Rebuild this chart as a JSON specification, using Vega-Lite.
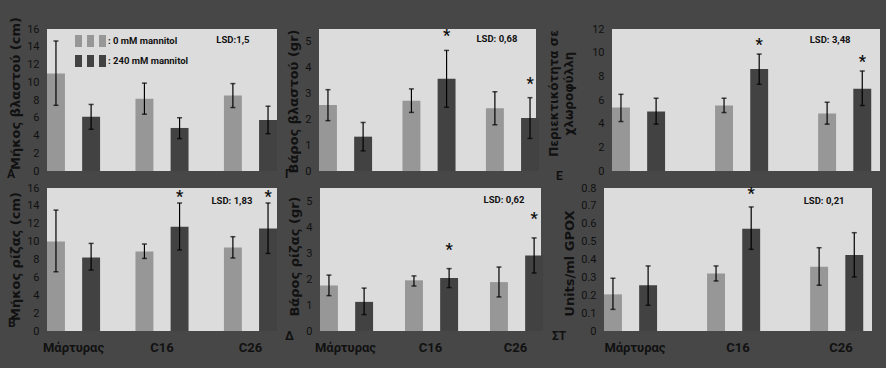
{
  "$schema": "https://vega.github.io/schema/vega-lite/v6.json",
  "background": "#474747",
  "padding": {"left": 7, "top": 16, "right": 18, "bottom": 22},
  "config": {
    "view": {"fill": "#dcdcdc", "stroke": null},
    "axis": {"labelOverlap": false},
    "axisY": {"ticks": false, "domain": false, "grid": false, "tickCount": 30, "format": "~g", "labelOverlap": false, "labelFlush": false, "labelFont": "Roboto", "labelFontSize": 11, "labelColor": "#111111", "labelPadding": 8, "titleFont": "DejaVu Sans", "titleFontSize": 13, "titleFontWeight": "bold", "titleColor": "#111111", "titlePadding": 4, "titleLineHeight": 15},
    "axisX": {"ticks": false, "domain": false, "grid": false, "labelFont": "Roboto", "labelFontSize": 13, "labelFontWeight": "bold", "labelColor": "#111111", "labelPadding": 10, "labelAngle": 0},
    "title": {"font": "Roboto", "fontSize": 12, "fontWeight": "bold", "color": "#111111", "orient": "bottom", "anchor": "start", "frame": "group", "offset": 0, "baseline": "top"},
    "text": {"font": "Roboto", "color": "#111111"}
  },
  "data": {"values": [
    {"panel": "A", "group": "Μάρτυρας", "treat": "0 mM mannitol", "mean": 11.0, "lo": 7.4, "hi": 14.65, "sig": ""},
    {"panel": "A", "group": "Μάρτυρας", "treat": "240 mM mannitol", "mean": 6.1, "lo": 4.7, "hi": 7.5, "sig": ""},
    {"panel": "A", "group": "C16", "treat": "0 mM mannitol", "mean": 8.15, "lo": 6.4, "hi": 9.9, "sig": ""},
    {"panel": "A", "group": "C16", "treat": "240 mM mannitol", "mean": 4.85, "lo": 3.65, "hi": 6.0, "sig": ""},
    {"panel": "A", "group": "C26", "treat": "0 mM mannitol", "mean": 8.5, "lo": 7.15, "hi": 9.85, "sig": ""},
    {"panel": "A", "group": "C26", "treat": "240 mM mannitol", "mean": 5.75, "lo": 4.2, "hi": 7.3, "sig": ""},
    {"panel": "G", "group": "Μάρτυρας", "treat": "0 mM mannitol", "mean": 2.56, "lo": 1.95, "hi": 3.15, "sig": ""},
    {"panel": "G", "group": "Μάρτυρας", "treat": "240 mM mannitol", "mean": 1.33, "lo": 0.78, "hi": 1.88, "sig": ""},
    {"panel": "G", "group": "C16", "treat": "0 mM mannitol", "mean": 2.72, "lo": 2.27, "hi": 3.18, "sig": ""},
    {"panel": "G", "group": "C16", "treat": "240 mM mannitol", "mean": 3.57, "lo": 2.47, "hi": 4.67, "sig": "*"},
    {"panel": "G", "group": "C26", "treat": "0 mM mannitol", "mean": 2.43, "lo": 1.79, "hi": 3.07, "sig": ""},
    {"panel": "G", "group": "C26", "treat": "240 mM mannitol", "mean": 2.05, "lo": 1.26, "hi": 2.84, "sig": "*"},
    {"panel": "E", "group": "Μάρτυρας", "treat": "0 mM mannitol", "mean": 5.36, "lo": 4.18, "hi": 6.48, "sig": ""},
    {"panel": "E", "group": "Μάρτυρας", "treat": "240 mM mannitol", "mean": 5.03, "lo": 3.96, "hi": 6.15, "sig": ""},
    {"panel": "E", "group": "C16", "treat": "0 mM mannitol", "mean": 5.53, "lo": 4.94, "hi": 6.15, "sig": ""},
    {"panel": "E", "group": "C16", "treat": "240 mM mannitol", "mean": 8.62, "lo": 7.33, "hi": 9.88, "sig": "*"},
    {"panel": "E", "group": "C26", "treat": "0 mM mannitol", "mean": 4.86, "lo": 3.96, "hi": 5.81, "sig": ""},
    {"panel": "E", "group": "C26", "treat": "240 mM mannitol", "mean": 6.96, "lo": 5.53, "hi": 8.45, "sig": "*"},
    {"panel": "B", "group": "Μάρτυρας", "treat": "0 mM mannitol", "mean": 10.02, "lo": 6.63, "hi": 13.53, "sig": ""},
    {"panel": "B", "group": "Μάρτυρας", "treat": "240 mM mannitol", "mean": 8.23, "lo": 6.82, "hi": 9.8, "sig": ""},
    {"panel": "B", "group": "C16", "treat": "0 mM mannitol", "mean": 8.9, "lo": 8.12, "hi": 9.73, "sig": ""},
    {"panel": "B", "group": "C16", "treat": "240 mM mannitol", "mean": 11.67, "lo": 9.06, "hi": 14.32, "sig": "*"},
    {"panel": "B", "group": "C26", "treat": "0 mM mannitol", "mean": 9.35, "lo": 8.17, "hi": 10.55, "sig": ""},
    {"panel": "B", "group": "C26", "treat": "240 mM mannitol", "mean": 11.48, "lo": 8.68, "hi": 14.32, "sig": "*"},
    {"panel": "D", "group": "Μάρτυρας", "treat": "0 mM mannitol", "mean": 1.75, "lo": 1.36, "hi": 2.15, "sig": ""},
    {"panel": "D", "group": "Μάρτυρας", "treat": "240 mM mannitol", "mean": 1.12, "lo": 0.63, "hi": 1.65, "sig": ""},
    {"panel": "D", "group": "C16", "treat": "0 mM mannitol", "mean": 1.95, "lo": 1.73, "hi": 2.12, "sig": ""},
    {"panel": "D", "group": "C16", "treat": "240 mM mannitol", "mean": 2.04, "lo": 1.67, "hi": 2.4, "sig": "*"},
    {"panel": "D", "group": "C26", "treat": "0 mM mannitol", "mean": 1.88, "lo": 1.31, "hi": 2.46, "sig": ""},
    {"panel": "D", "group": "C26", "treat": "240 mM mannitol", "mean": 2.9, "lo": 2.23, "hi": 3.58, "sig": "*"},
    {"panel": "S", "group": "Μάρτυρας", "treat": "0 mM mannitol", "mean": 0.205, "lo": 0.121, "hi": 0.295, "sig": ""},
    {"panel": "S", "group": "Μάρτυρας", "treat": "240 mM mannitol", "mean": 0.256, "lo": 0.144, "hi": 0.364, "sig": ""},
    {"panel": "S", "group": "C16", "treat": "0 mM mannitol", "mean": 0.321, "lo": 0.28, "hi": 0.364, "sig": ""},
    {"panel": "S", "group": "C16", "treat": "240 mM mannitol", "mean": 0.572, "lo": 0.457, "hi": 0.694, "sig": "*"},
    {"panel": "S", "group": "C26", "treat": "0 mM mannitol", "mean": 0.36, "lo": 0.256, "hi": 0.466, "sig": ""},
    {"panel": "S", "group": "C26", "treat": "240 mM mannitol", "mean": 0.425, "lo": 0.302, "hi": 0.55, "sig": ""}
  ]},
  "spacing": 0,
  "resolve": {"scale": {"color": "independent"}, "legend": {"color": "independent"}},
  "vconcat": [
    {
      "spacing": 8,
      "resolve": {"scale": {"color": "independent"}, "legend": {"color": "independent"}},
      "hconcat": [
        {
          "width": 230, "height": 142,
          "title": {"text": "Α", "dx": -40, "dy": -11},
          "transform": [{"filter": "datum.panel === 'A'"}],
          "encoding": {
            "x": {"field": "group", "type": "nominal", "sort": ["Μάρτυρας", "C16", "C26"], "scale": {"paddingInner": 0.4, "paddingOuter": 0}, "axis": null},
            "xOffset": {"field": "treat", "type": "nominal", "sort": ["0 mM mannitol", "240 mM mannitol"], "scale": {"paddingInner": 0.49, "paddingOuter": 0}}
          },
          "layer": [
            {"mark": {"type": "bar"}, "encoding": {
              "y": {"field": "mean", "type": "quantitative", "scale": {"domain": [0, 16], "nice": false}, "axis": {"values": [0, 2, 4, 6, 8, 10, 12, 14, 16], "tickCount": 30, "format": "~g", "titleY": 64, "title": "Μήκος βλαστού (cm)"}},
              "color": {"field": "treat", "type": "nominal", "scale": {"domain": ["0 mM mannitol", "240 mM mannitol"], "range": ["#979797", "#424242"]},
                "legend": {"orient": "none", "legendX": 37.5, "legendY": 6, "title": null, "symbolType": "M-2.583,-1H-1.417V1H-2.583Z M-0.583,-1H0.583V1H-0.583Z M1.417,-1H2.583V1H1.417Z", "symbolSize": 144, "symbolStrokeWidth": 0, "symbolOpacity": 1, "labelOffset": 11.5, "labelFont": "Roboto", "labelFontSize": 9.5, "labelFontWeight": "bold", "labelColor": "#111111", "rowPadding": 8, "labelExpr": "': ' + datum.label"}}
            }},
            {"mark": {"type": "rule", "color": "#000000", "strokeWidth": 1.2}, "encoding": {"y": {"field": "lo", "type": "quantitative"}, "y2": {"field": "hi"}}},
            {"mark": {"type": "tick", "color": "#000000", "size": 5, "thickness": 1.5, "orient": "horizontal"}, "encoding": {"y": {"field": "lo", "type": "quantitative"}}},
            {"mark": {"type": "tick", "color": "#000000", "size": 5, "thickness": 1.5, "orient": "horizontal"}, "encoding": {"y": {"field": "hi", "type": "quantitative"}}},
            {"data": {"values": [{"panel": "A", "group": "C26", "treat": "0 mM mannitol", "label": "LSD:1,5"}]},
             "mark": {"type": "text", "fontSize": 9.5, "fontWeight": "bold", "baseline": "middle", "dx": 0},
             "encoding": {"y": {"datum": 14.8}, "text": {"field": "label"}}}
          ]
        },
        {
          "width": 217, "height": 142,
          "title": {"text": "Γ", "dx": -34, "dy": -11},
          "transform": [{"filter": "datum.panel === 'G'"}],
          "encoding": {
            "x": {"field": "group", "type": "nominal", "sort": ["Μάρτυρας", "C16", "C26"], "scale": {"paddingInner": 0.4, "paddingOuter": 0}, "axis": null},
            "xOffset": {"field": "treat", "type": "nominal", "sort": ["0 mM mannitol", "240 mM mannitol"], "scale": {"paddingInner": 0.49, "paddingOuter": 0}}
          },
          "layer": [
            {"mark": {"type": "bar"}, "encoding": {
              "y": {"field": "mean", "type": "quantitative", "scale": {"domain": [0, 5.5], "nice": false}, "axis": {"values": [0, 1, 2, 3, 4, 5], "tickCount": 30, "format": "~g", "titleY": 72, "title": "Βάρος βλαστού (gr)"}},
              "color": {"field": "treat", "type": "nominal", "scale": {"domain": ["0 mM mannitol", "240 mM mannitol"], "range": ["#979797", "#424242"]}, "legend": null}
            }},
            {"mark": {"type": "rule", "color": "#000000", "strokeWidth": 1.2}, "encoding": {"y": {"field": "lo", "type": "quantitative"}, "y2": {"field": "hi"}}},
            {"mark": {"type": "tick", "color": "#000000", "size": 5, "thickness": 1.5, "orient": "horizontal"}, "encoding": {"y": {"field": "lo", "type": "quantitative"}}},
            {"mark": {"type": "tick", "color": "#000000", "size": 5, "thickness": 1.5, "orient": "horizontal"}, "encoding": {"y": {"field": "hi", "type": "quantitative"}}},
            {"transform": [{"filter": "datum.sig === '*'"}], "mark": {"type": "text", "fontSize": 16, "fontWeight": "bold", "baseline": "middle", "dy": -14}, "encoding": {"y": {"field": "hi", "type": "quantitative"}, "text": {"field": "sig"}}},
            {"data": {"values": [{"panel": "G", "group": "C26", "treat": "0 mM mannitol", "label": "LSD: 0,68"}]},
             "mark": {"type": "text", "fontSize": 9.5, "fontWeight": "bold", "baseline": "middle", "dx": 2},
             "encoding": {"y": {"datum": 5.12}, "text": {"field": "label"}}}
          ]
        },
        {
          "width": 268, "height": 142,
          "title": {"text": "Ε", "dx": -56, "dy": -9},
          "transform": [{"filter": "datum.panel === 'E'"}],
          "encoding": {
            "x": {"field": "group", "type": "nominal", "sort": ["Μάρτυρας", "C16", "C26"], "scale": {"paddingInner": 0.4, "paddingOuter": 0}, "axis": null},
            "xOffset": {"field": "treat", "type": "nominal", "sort": ["0 mM mannitol", "240 mM mannitol"], "scale": {"paddingInner": 0.49, "paddingOuter": 0}}
          },
          "layer": [
            {"mark": {"type": "bar"}, "encoding": {
              "y": {"field": "mean", "type": "quantitative", "scale": {"domain": [0, 12], "nice": false}, "axis": {"values": [0, 2, 4, 6, 8, 10, 12], "tickCount": 30, "format": "~g", "titleFontSize": 12, "titlePadding": 16, "titleY": 64, "title": ["Περιεκτικότητα σε", "χλωροφύλλη"]}},
              "color": {"field": "treat", "type": "nominal", "scale": {"domain": ["0 mM mannitol", "240 mM mannitol"], "range": ["#979797", "#424242"]}, "legend": null}
            }},
            {"mark": {"type": "rule", "color": "#000000", "strokeWidth": 1.2}, "encoding": {"y": {"field": "lo", "type": "quantitative"}, "y2": {"field": "hi"}}},
            {"mark": {"type": "tick", "color": "#000000", "size": 5, "thickness": 1.5, "orient": "horizontal"}, "encoding": {"y": {"field": "lo", "type": "quantitative"}}},
            {"mark": {"type": "tick", "color": "#000000", "size": 5, "thickness": 1.5, "orient": "horizontal"}, "encoding": {"y": {"field": "hi", "type": "quantitative"}}},
            {"transform": [{"filter": "datum.sig === '*'"}], "mark": {"type": "text", "fontSize": 16, "fontWeight": "bold", "baseline": "middle", "dy": -9}, "encoding": {"y": {"field": "hi", "type": "quantitative"}, "text": {"field": "sig"}}},
            {"data": {"values": [{"panel": "E", "group": "C26", "treat": "0 mM mannitol", "label": "LSD: 3,48"}]},
             "mark": {"type": "text", "fontSize": 9.5, "fontWeight": "bold", "baseline": "middle", "dx": 3},
             "encoding": {"y": {"datum": 11.03}, "text": {"field": "label"}}}
          ]
        }
      ]
    },
    {
      "spacing": 8,
      "resolve": {"scale": {"color": "independent"}, "legend": {"color": "independent"}},
      "hconcat": [
        {
          "width": 230, "height": 143,
          "title": {"text": "Β", "dx": -39, "dy": -40},
          "transform": [{"filter": "datum.panel === 'B'"}],
          "encoding": {
            "x": {"field": "group", "type": "nominal", "sort": ["Μάρτυρας", "C16", "C26"], "scale": {"paddingInner": 0.4, "paddingOuter": 0}, "axis": {"title": null}},
            "xOffset": {"field": "treat", "type": "nominal", "sort": ["0 mM mannitol", "240 mM mannitol"], "scale": {"paddingInner": 0.49, "paddingOuter": 0}}
          },
          "layer": [
            {"mark": {"type": "bar"}, "encoding": {
              "y": {"field": "mean", "type": "quantitative", "scale": {"domain": [0, 16], "nice": false}, "axis": {"values": [0, 2, 4, 6, 8, 10, 12, 14, 16], "tickCount": 30, "format": "~g", "titleY": 68, "title": "Μήκος ρίζας (cm)"}},
              "color": {"field": "treat", "type": "nominal", "scale": {"domain": ["0 mM mannitol", "240 mM mannitol"], "range": ["#979797", "#424242"]}, "legend": null}
            }},
            {"mark": {"type": "rule", "color": "#000000", "strokeWidth": 1.2}, "encoding": {"y": {"field": "lo", "type": "quantitative"}, "y2": {"field": "hi"}}},
            {"mark": {"type": "tick", "color": "#000000", "size": 5, "thickness": 1.5, "orient": "horizontal"}, "encoding": {"y": {"field": "lo", "type": "quantitative"}}},
            {"mark": {"type": "tick", "color": "#000000", "size": 5, "thickness": 1.5, "orient": "horizontal"}, "encoding": {"y": {"field": "hi", "type": "quantitative"}}},
            {"transform": [{"filter": "datum.sig === '*'"}], "mark": {"type": "text", "fontSize": 16, "fontWeight": "bold", "baseline": "middle", "dy": -6}, "encoding": {"y": {"field": "hi", "type": "quantitative"}, "text": {"field": "sig"}}},
            {"data": {"values": [{"panel": "B", "group": "C26", "treat": "0 mM mannitol", "label": "LSD: 1,83"}]},
             "mark": {"type": "text", "fontSize": 9.5, "fontWeight": "bold", "baseline": "middle", "dx": -1},
             "encoding": {"y": {"datum": 14.58}, "text": {"field": "label"}}}
          ]
        },
        {
          "width": 221, "height": 143,
          "title": {"text": "Δ", "dx": -35, "dy": -27},
          "transform": [{"filter": "datum.panel === 'D'"}],
          "encoding": {
            "x": {"field": "group", "type": "nominal", "sort": ["Μάρτυρας", "C16", "C26"], "scale": {"paddingInner": 0.4, "paddingOuter": 0}, "axis": {"title": null}},
            "xOffset": {"field": "treat", "type": "nominal", "sort": ["0 mM mannitol", "240 mM mannitol"], "scale": {"paddingInner": 0.49, "paddingOuter": 0}}
          },
          "layer": [
            {"mark": {"type": "bar"}, "encoding": {
              "y": {"field": "mean", "type": "quantitative", "scale": {"domain": [0, 5.5], "nice": false}, "axis": {"values": [0, 1, 2, 3, 4, 5], "tickCount": 30, "format": "~g", "titleY": 68, "title": "Βάρος ρίζας (gr)"}},
              "color": {"field": "treat", "type": "nominal", "scale": {"domain": ["0 mM mannitol", "240 mM mannitol"], "range": ["#979797", "#424242"]}, "legend": null}
            }},
            {"mark": {"type": "rule", "color": "#000000", "strokeWidth": 1.2}, "encoding": {"y": {"field": "lo", "type": "quantitative"}, "y2": {"field": "hi"}}},
            {"mark": {"type": "tick", "color": "#000000", "size": 5, "thickness": 1.5, "orient": "horizontal"}, "encoding": {"y": {"field": "lo", "type": "quantitative"}}},
            {"mark": {"type": "tick", "color": "#000000", "size": 5, "thickness": 1.5, "orient": "horizontal"}, "encoding": {"y": {"field": "hi", "type": "quantitative"}}},
            {"transform": [{"filter": "datum.sig === '*'"}], "mark": {"type": "text", "fontSize": 16, "fontWeight": "bold", "baseline": "middle", "dy": -19}, "encoding": {"y": {"field": "hi", "type": "quantitative"}, "text": {"field": "sig"}}},
            {"data": {"values": [{"panel": "D", "group": "C26", "treat": "0 mM mannitol", "label": "LSD: 0,62"}]},
             "mark": {"type": "text", "fontSize": 9.5, "fontWeight": "bold", "baseline": "middle", "dx": 5},
             "encoding": {"y": {"datum": 5.03}, "text": {"field": "label"}}}
          ]
        },
        {
          "width": 268, "height": 143,
          "title": {"text": "ΣΤ", "dx": -52, "dy": -27},
          "transform": [{"filter": "datum.panel === 'S'"}],
          "encoding": {
            "x": {"field": "group", "type": "nominal", "sort": ["Μάρτυρας", "C16", "C26"], "scale": {"paddingInner": 0.4, "paddingOuter": 0}, "axis": {"title": null}},
            "xOffset": {"field": "treat", "type": "nominal", "sort": ["0 mM mannitol", "240 mM mannitol"], "scale": {"paddingInner": 0.49, "paddingOuter": 0}}
          },
          "layer": [
            {"mark": {"type": "bar"}, "encoding": {
              "y": {"field": "mean", "type": "quantitative", "scale": {"domain": [0, 0.8], "nice": false}, "axis": {"values": [0, 0.1, 0.2, 0.3, 0.4, 0.5, 0.6, 0.7, 0.8], "tickCount": 30, "format": "~g", "titleY": 75, "title": "Units/ml GPOX"}},
              "color": {"field": "treat", "type": "nominal", "scale": {"domain": ["0 mM mannitol", "240 mM mannitol"], "range": ["#979797", "#424242"]}, "legend": null}
            }},
            {"mark": {"type": "rule", "color": "#000000", "strokeWidth": 1.2}, "encoding": {"y": {"field": "lo", "type": "quantitative"}, "y2": {"field": "hi"}}},
            {"mark": {"type": "tick", "color": "#000000", "size": 5, "thickness": 1.5, "orient": "horizontal"}, "encoding": {"y": {"field": "lo", "type": "quantitative"}}},
            {"mark": {"type": "tick", "color": "#000000", "size": 5, "thickness": 1.5, "orient": "horizontal"}, "encoding": {"y": {"field": "hi", "type": "quantitative"}}},
            {"transform": [{"filter": "datum.sig === '*'"}], "mark": {"type": "text", "fontSize": 16, "fontWeight": "bold", "baseline": "middle", "dy": -13}, "encoding": {"y": {"field": "hi", "type": "quantitative"}, "text": {"field": "sig"}}},
            {"data": {"values": [{"panel": "S", "group": "C26", "treat": "0 mM mannitol", "label": "LSD: 0,21"}]},
             "mark": {"type": "text", "fontSize": 9.5, "fontWeight": "bold", "baseline": "middle", "dx": 5},
             "encoding": {"y": {"datum": 0.727}, "text": {"field": "label"}}}
          ]
        }
      ]
    }
  ]
}
